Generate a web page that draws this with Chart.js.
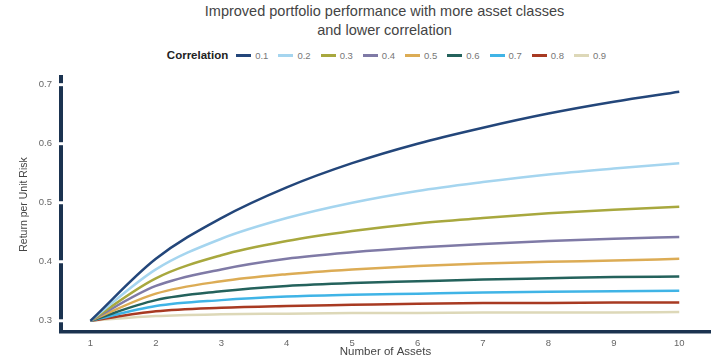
<!DOCTYPE html>
<html>
<head>
<meta charset="utf-8">
<script src="https://cdn.jsdelivr.net/npm/chart.js@4/dist/chart.umd.min.js"></script>
<style>
  html, body {
    margin: 0;
    padding: 0;
    background: #fff;
    overflow: hidden;
  }

  .wrap {
    position: relative;
    width: 721px;
    height: 362px;
    overflow: hidden;
    font-family: "Liberation Sans", Arial, sans-serif;
  }

  .title {
    position: absolute;
    left: 0;
    width: 721px;
    top: 2px;
    padding-left: 48px;
    box-sizing: border-box;
    text-align: center;
    font-size: 14.5px;
    line-height: 19px;
    color: #444;
  }

  .legend {
    position: absolute;
    top: 47px;
    left: 0;
    width: 721px;
    padding-left: 52px;
    box-sizing: border-box;
    display: flex;
    justify-content: center;
    align-items: center;
    height: 16px;
  }

  .legend .name {
    font-weight: bold;
    font-size: 11.5px;
    color: #222;
    margin-right: 8px;
  }

  .legend .item {
    display: flex;
    align-items: center;
    margin-right: 10px;
    font-size: 9.5px;
    color: #777;
  }

  .legend .item:last-child {
    margin-right: 0;
  }

  .legend .swatch {
    width: 15px;
    height: 3px;
    margin-right: 4px;
  }

  #myChart {
    position: absolute;
    left: 0;
    top: 0;
  }
</style>
</head>
<body>
<div class="wrap">
  <div class="title">Improved portfolio performance with more asset classes<br>and lower correlation</div>
  <div class="legend" id="legend"><span class="name">Correlation</span></div>
  <canvas id="myChart" width="721" height="362"></canvas>
</div>
<script>
const assets = [1, 2, 3, 4, 5, 6, 7, 8, 9, 10]
const yTicks = [0.3, 0.4, 0.5, 0.6, 0.7]

const correlations = ['0.1', '0.2', '0.3', '0.4', '0.5', '0.6', '0.7', '0.8', '0.9']

const corr01 = [0.300, 0.405, 0.474, 0.526, 0.567, 0.600, 0.627, 0.651, 0.671, 0.688]
const corr02 = [0.300, 0.387, 0.439, 0.474, 0.500, 0.520, 0.535, 0.548, 0.558, 0.567]
const corr03 = [0.300, 0.372, 0.411, 0.435, 0.452, 0.465, 0.474, 0.482, 0.488, 0.493]
const corr04 = [0.300, 0.359, 0.387, 0.405, 0.416, 0.424, 0.430, 0.435, 0.439, 0.442]
const corr05 = [0.300, 0.346, 0.367, 0.379, 0.387, 0.393, 0.397, 0.400, 0.402, 0.405]
const corr06 = [0.300, 0.335, 0.350, 0.359, 0.364, 0.367, 0.370, 0.372, 0.374, 0.375]
const corr07 = [0.300, 0.325, 0.335, 0.341, 0.344, 0.346, 0.348, 0.349, 0.350, 0.351]
const corr08 = [0.300, 0.316, 0.322, 0.325, 0.327, 0.329, 0.330, 0.330, 0.331, 0.331]
const corr09 = [0.300, 0.308, 0.311, 0.312, 0.313, 0.313, 0.314, 0.314, 0.314, 0.315]

const series = [corr01, corr02, corr03, corr04, corr05, corr06, corr07, corr08, corr09]
const colors = ['#23467a', '#a5d5ef', '#a8a83e', '#7f7aa6', '#dcac55', '#24625c', '#40b4e6', '#a83a22', '#ddd8b8']

const axisColor = '#1b3350'

// legend in html, bold "Correlation" label in front of the items
const legend = document.getElementById('legend')
correlations.forEach((c, i) => {
  const item = document.createElement('span')
  item.className = 'item'
  item.innerHTML = `<span class="swatch" style="background:${colors[i]}"></span>${c}`
  legend.appendChild(item)
})

// white breaks in the y axis line at each tick
const axisBreaks = {
  id: 'axisBreaks',
  afterDraw (chart) {
    const y = chart.scales.y
    const c = chart.ctx
    c.save()
    c.fillStyle = '#fff'
    y.ticks.forEach(t => {
      const py = y.getPixelForValue(t.value)
      c.fillRect(y.right - 4, py - 1.5, 8, 3)
    })
    c.restore()
  }
}

const noGrid = {
  display: true,
  drawOnChartArea: false,
  drawTicks: false,
  color: 'rgba(0,0,0,0)'
}

const myChart = new Chart(document.getElementById('myChart'), {
  type: 'line',
  data: {
    datasets: series.map((vals, i) => ({
      label: correlations[i],
      data: vals.map((v, j) => ({ x: assets[j], y: v })),
      borderColor: colors[i],
      backgroundColor: colors[i],
      borderWidth: 2.5,
      pointRadius: 0,
      cubicInterpolationMode: 'monotone'
    }))
  },
  options: {
    responsive: false,
    animation: false,
    layout: {
      padding: { top: 77, right: 11, bottom: 0, left: 0 }
    },
    plugins: {
      legend: { display: false },
      title: { display: false },
      tooltip: { enabled: false }
    },
    scales: {
      x: {
        type: 'linear',
        min: 0.55,
        max: 10.47,
        afterBuildTicks: s => { s.ticks = assets.map(v => ({ value: v })) },
        afterFit: s => { s.height = 30 },
        grid: noGrid,
        border: { display: true, color: axisColor, width: 3.5 },
        ticks: {
          padding: 6,
          color: '#666',
          font: { family: 'Liberation Sans', size: 9.5 },
          callback: v => String(v)
        },
        title: {
          display: true,
          text: 'Number of Assets',
          color: '#444',
          font: { family: 'Liberation Sans', size: 11.5 },
          padding: { top: 0, bottom: 3 }
        }
      },
      y: {
        min: 0.281,
        max: 0.713,
        afterBuildTicks: s => { s.ticks = yTicks.map(v => ({ value: v })) },
        afterFit: s => { s.width = 61 },
        grid: noGrid,
        border: { display: true, color: axisColor, width: 4 },
        ticks: {
          padding: 9,
          color: '#666',
          font: { family: 'Liberation Sans', size: 9.5 },
          callback: v => v.toFixed(1)
        },
        title: {
          display: true,
          text: 'Return per Unit Risk',
          color: '#444',
          font: { family: 'Liberation Sans', size: 10.5 },
          padding: { top: 18, bottom: 0 }
        }
      }
    }
  },
  plugins: [axisBreaks]
})
</script>
</body>
</html>
